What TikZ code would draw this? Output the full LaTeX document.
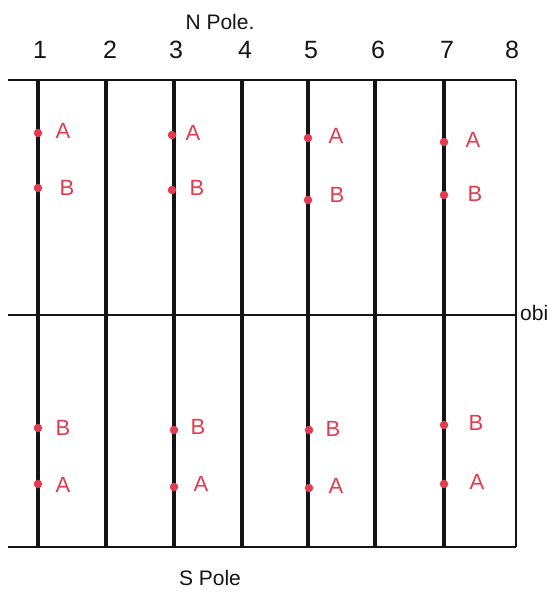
\documentclass[tikz,border=0pt]{standalone}
\usepackage{fontspec}
\setmainfont{Liberation Sans}
\definecolor{pen}{RGB}{225,60,80}
\definecolor{ink}{RGB}{20,20,20}
\begin{document}
\begin{tikzpicture}[x=1pt,y=-1pt,
  frame/.style={ink,line width=2.4pt},
  rod/.style={ink,line width=3.4pt},
  edgerod/.style={ink,line width=2.4pt},
  midline/.style={ink,line width=1.5pt},
  dotmark/.style={circle,fill=pen,inner sep=0pt,minimum size=8.5pt},
  lab/.style={pen,font=\fontsize{22}{26}\selectfont,inner sep=0pt},
  num/.style={ink,font=\fontsize{25}{30}\selectfont,inner sep=0pt},
  pole/.style={ink,font=\fontsize{21}{25}\selectfont,inner sep=0pt}]
\useasboundingbox (0,0) rectangle (554,592);
\fill[white] (0,0) rectangle (554,592);
% frame
\draw[frame] (8,80) -- (516,80);
\draw[frame] (8,547) -- (516,547);
\draw[midline] (8,315) -- (516,315);
% vertical rods
\foreach \x in {38,106,174,242,308,375,444}
  \draw[rod] (\x,80) -- (\x,547);
\draw[edgerod] (516,80) -- (516,547);
% numbers
\node[num] (n1) at (40,50) {1};
\node[num] (n2) at (110,50) {2};
\node[num] (n3) at (176,50) {3};
\node[num] (n4) at (245,50) {4};
\node[num] (n5) at (311,50) {5};
\node[num] (n6) at (378,50) {6};
\node[num] (n7) at (447,50) {7};
\node[num] (n8) at (512,50) {8};
% poles
\node[pole] (np) at (220,22) {N Pole.};
\node[pole] (sp) at (210,578) {S Pole};
\node[pole,anchor=west] (ob) at (520,313) {obi};
% dots and labels
\node[dotmark] (d1a) at (38,133) {}; \node[lab] (l1a) at (63,131) {A};
\node[dotmark] (d1b) at (38,188) {}; \node[lab] (l1b) at (67,188) {B};
\node[dotmark] (d1c) at (38,428) {}; \node[lab] (l1c) at (63,428) {B};
\node[dotmark] (d1d) at (38,484) {}; \node[lab] (l1d) at (63,485) {A};
\node[dotmark] (d3a) at (172,135) {}; \node[lab] (l3a) at (193,133) {A};
\node[dotmark] (d3b) at (172,190) {}; \node[lab] (l3b) at (197,188) {B};
\node[dotmark] (d3c) at (174,430) {}; \node[lab] (l3c) at (198,427) {B};
\node[dotmark] (d3d) at (174,487) {}; \node[lab] (l3d) at (201,484) {A};
\node[dotmark] (d5a) at (308,138) {}; \node[lab] (l5a) at (336,136) {A};
\node[dotmark] (d5b) at (308,200) {}; \node[lab] (l5b) at (337,195) {B};
\node[dotmark] (d5c) at (309,430) {}; \node[lab] (l5c) at (333,429) {B};
\node[dotmark] (d5d) at (309,488) {}; \node[lab] (l5d) at (336,486) {A};
\node[dotmark] (d7a) at (444,142) {}; \node[lab] (l7a) at (473,140) {A};
\node[dotmark] (d7b) at (444,195) {}; \node[lab] (l7b) at (475,194) {B};
\node[dotmark] (d7c) at (444,425) {}; \node[lab] (l7c) at (476,423) {B};
\node[dotmark] (d7d) at (444,484) {}; \node[lab] (l7d) at (477,482) {A};
\end{tikzpicture}
\end{document}
